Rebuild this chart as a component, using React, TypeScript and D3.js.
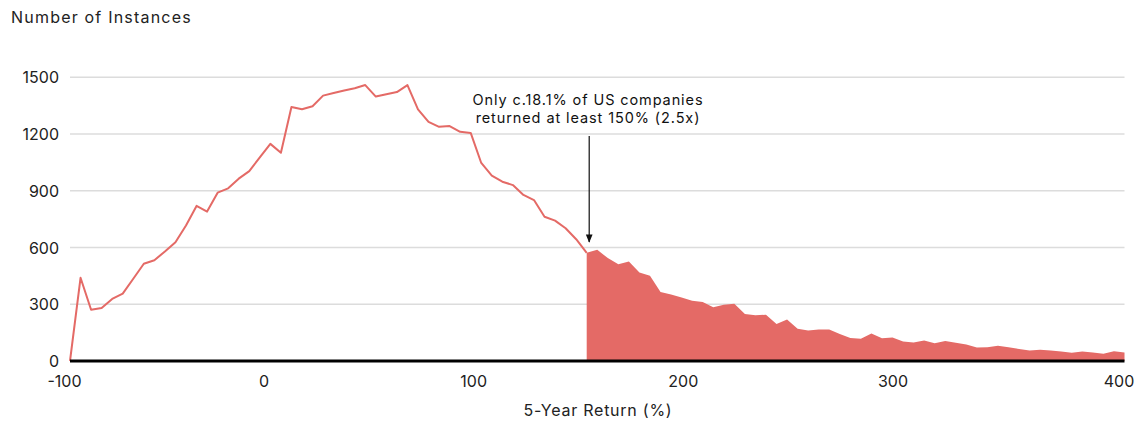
import React from "react";
import * as d3 from "d3";

const returns: number[] = d3.range(-100, 401, 5);
const instances: number[] = [
  0, 440, 271, 280, 328, 356, 435, 514, 533, 579,
  628, 716, 820, 790, 890, 913, 964, 1004, 1077, 1148,
  1101, 1343, 1331, 1347, 1403, 1417, 1430, 1442, 1459, 1398,
  1410, 1422, 1459, 1330, 1264, 1238, 1242, 1212, 1206, 1047,
  980, 948, 930, 878, 851, 763, 742, 702, 644, 572,
  588, 544, 512, 526, 468, 451, 365, 351, 336, 319,
  312, 284, 298, 303, 249, 242, 245, 196, 219, 171,
  161, 166, 166, 143, 122, 118, 145, 120, 124, 103,
  98, 108, 94, 106, 96, 87, 71, 73, 80, 73,
  64, 55, 59, 55, 50, 43, 50, 45, 38, 52, 45,
];
const yTicks: number[] = [0, 300, 600, 900, 1200, 1500];
const xTicks: number[] = [-100, 0, 100, 200, 300, 400];
const threshold = 145;

const W = 1140;
const H = 425;
const RED = "#e46a66";
const FONT = "Inter, 'Noto Sans', sans-serif";

export default function App() {
  const data = returns.map((r, i) => ({ r, v: instances[i] }));
  const x = d3.scaleLinear().domain([-100, 400]).range([70, 1124.5]);
  const y = d3.scaleLinear().domain([0, 1500]).range([361, 77.3]);
  const xLabel = d3
    .scaleLinear()
    .domain([-100, 0, 300, 400])
    .range([64.5, 264, 893, 1119]);

  const lineData = data.filter((d) => d.r <= threshold);
  const areaData = data.filter((d) => d.r >= threshold);

  const line = d3
    .line<{ r: number; v: number }>()
    .x((d) => x(d.r))
    .y((d) => y(d.v));
  const area = d3
    .area<{ r: number; v: number }>()
    .x((d) => x(d.r))
    .y0(y(0))
    .y1((d) => y(d.v));

  const arrowX = x(threshold) + 2.5;

  return (
    <svg width={W} height={H} style={{ position: "absolute", left: 0, top: 0 }}>
      <defs>
        <marker id="arrowhead" viewBox="0 0 10 10" refX="9" refY="5" markerWidth="7" markerHeight="7" orient="auto">
          <path d="M0,1 L10,5 L0,9 z" fill="#111" />
        </marker>
      </defs>
      <text x={11} y={17} dominantBaseline="central" fontFamily={FONT} fontSize={16} letterSpacing={1.2} fill="#222">
        Number of Instances
      </text>
      {yTicks.map((t) => (
        <g key={t}>
          {t > 0 && (
            <line x1={70} x2={1124.5} y1={y(t)} y2={y(t)} stroke="#dcdcdc" strokeWidth={1.5} />
          )}
          <text
            x={59}
            y={y(t)}
            textAnchor="end"
            dominantBaseline="central"
            fontFamily={FONT}
            fontSize={16}
            fill="#222"
          >
            {t}
          </text>
        </g>
      ))}
      <path d={area(areaData) || ""} fill={RED} />
      <path d={line(lineData) || ""} fill="none" stroke={RED} strokeWidth={2} strokeLinejoin="round" />
      <line x1={70} x2={1124.5} y1={y(0)} y2={y(0)} stroke="#000" strokeWidth={3} />
      {xTicks.map((t) => (
        <text
          key={t}
          x={xLabel(t)}
          y={381}
          textAnchor="middle"
          dominantBaseline="central"
          fontFamily={FONT}
          fontSize={16}
          fill="#222"
        >
          {t}
        </text>
      ))}
      <text x={598} y={410} textAnchor="middle" dominantBaseline="central" fontFamily={FONT} fontSize={16} letterSpacing={0.75} fill="#222">
        5-Year Return (%)
      </text>
      <text x={588} y={99} textAnchor="middle" dominantBaseline="central" fontFamily={FONT} fontSize={14.5} letterSpacing={0.9} fill="#111">
        Only c.18.1% of US companies
      </text>
      <text x={588} y={117} textAnchor="middle" dominantBaseline="central" fontFamily={FONT} fontSize={14.5} letterSpacing={0.9} fill="#111">
        returned at least 150% (2.5x)
      </text>
      <line x1={arrowX} x2={arrowX} y1={136} y2={242} stroke="#111" strokeWidth={1.2} markerEnd="url(#arrowhead)" />
    </svg>
  );
}
